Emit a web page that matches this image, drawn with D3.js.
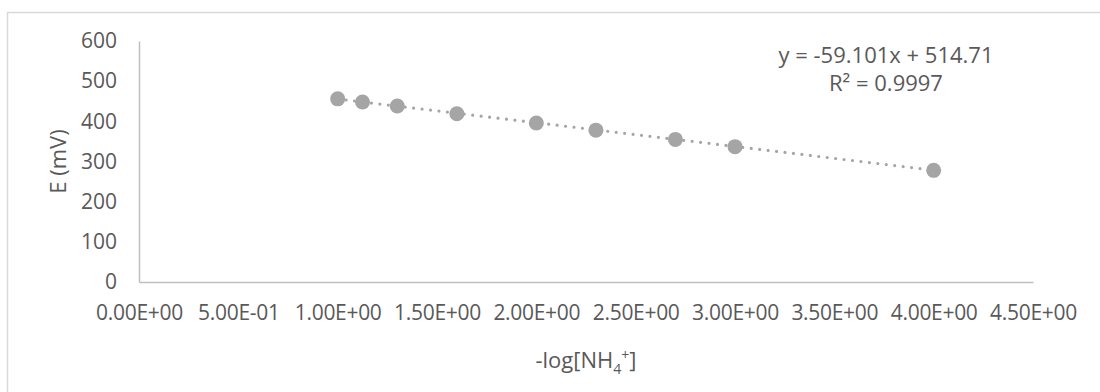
<!DOCTYPE html>
<html>
<head>
<meta charset="utf-8">
<script src="https://cdn.jsdelivr.net/npm/d3@7/dist/d3.min.js"></script>
<style>
  html, body { margin: 0; padding: 0; background: #fff; }
  svg { display: block; }
  text { font-family: "Open Sans", sans-serif; fill: #595959; }
</style>
</head>
<body>
<svg id="chart" width="1100" height="392"></svg>
<script>
// -log[NH4+] for each standard and the measured electrode potential (mV)
const pNH4 = [1.0, 1.125, 1.3, 1.6, 2.0, 2.3, 2.7, 3.0, 4.0];
const potential = [456, 448, 438, 419, 396, 378, 355, 337, 278];

// Linear fit reported on the chart
const slope = -59.101;
const intercept = 514.71;
const rSquared = "0.9997";

const xTicks = [0, 0.5, 1, 1.5, 2, 2.5, 3, 3.5, 4, 4.5];
const yTicks = [0, 100, 200, 300, 400, 500, 600];

const svg = d3.select("#chart");
const W = 1100, H = 392;
const plot = { left: 139, right: 1033, top: 41, bottom: 282 };
const fontPx = "21px";

// Chart frame (extends past the right and bottom edges)
svg.append("rect")
  .attr("x", 7.5).attr("y", 12.5)
  .attr("width", W + 20).attr("height", H + 20)
  .attr("fill", "#fff")
  .attr("stroke", "#d9d9d9").attr("stroke-width", 1.5);

const x = d3.scaleLinear().domain([0, 4.5]).range([plot.left, plot.right]);
const y = d3.scaleLinear().domain([0, 600]).range([plot.bottom, plot.top]);

// Axes
const fmtE = d => {
  const s = d.toExponential(2).toUpperCase();   // e.g. "4.50E+0"
  return s.replace(/E([+-])(\d)$/, "E$10$2");
};

const xAxis = svg.append("g")
  .attr("transform", `translate(0,${plot.bottom})`)
  .call(d3.axisBottom(x).tickValues(xTicks).tickFormat(fmtE).tickSize(0).tickPadding(31));
const yAxis = svg.append("g")
  .attr("transform", `translate(${plot.left},0)`)
  .call(d3.axisLeft(y).tickValues(yTicks).tickFormat(d3.format("d")).tickSize(0).tickPadding(22));

[xAxis, yAxis].forEach(g => {
  g.select(".domain").attr("stroke", "#bfbfbf").attr("stroke-width", 1.5);
  g.selectAll("text").attr("fill", "#595959").style("font-size", fontPx)
    .style("font-family", "'Open Sans', sans-serif");
});
xAxis.selectAll("text").attr("dy", "0.35em").style("letter-spacing", "-0.3px");

// Axis titles
svg.append("text")
  .attr("transform", `translate(58,${(plot.top + plot.bottom) / 2}) rotate(-90)`)
  .attr("text-anchor", "middle").attr("dy", "0.35em")
  .style("font-size", "22px")
  .text("E (mV)");

const xt = svg.append("text")
  .attr("x", (plot.left + plot.right) / 2).attr("y", 368)
  .attr("text-anchor", "middle")
  .style("font-size", "22px");
xt.append("tspan").text("-log[NH");
xt.append("tspan").attr("dy", 6).style("font-size", "14px").text("4");
xt.append("tspan").attr("dy", -14).style("font-size", "14px").text("+");
xt.append("tspan").attr("dy", 8).text("]");

// Dotted linear trendline over the data range
const xMin = d3.min(pNH4), xMax = d3.max(pNH4);
svg.append("line")
  .attr("x1", x(xMin)).attr("y1", y(slope * xMin + intercept))
  .attr("x2", x(xMax)).attr("y2", y(slope * xMax + intercept))
  .attr("stroke", "#a5a5a5").attr("stroke-width", 3.2)
  .attr("stroke-linecap", "round").attr("stroke-dasharray", "0 8.5");

// Data markers
svg.append("g").selectAll("circle")
  .data(pNH4.map((v, i) => ({ x: v, y: potential[i] })))
  .join("circle")
  .attr("cx", d => x(d.x)).attr("cy", d => y(d.y))
  .attr("r", 7.5)
  .attr("fill", "#a5a5a5");

// Regression equation
const eq = svg.append("g").attr("text-anchor", "middle").style("font-size", "22px");
eq.append("text").attr("x", 886).attr("y", 63)
  .text(`y = ${slope}x + ${intercept}`);
eq.append("text").attr("x", 886).attr("y", 91)
  .text(`R² = ${rSquared}`);
</script>
</body>
</html>
